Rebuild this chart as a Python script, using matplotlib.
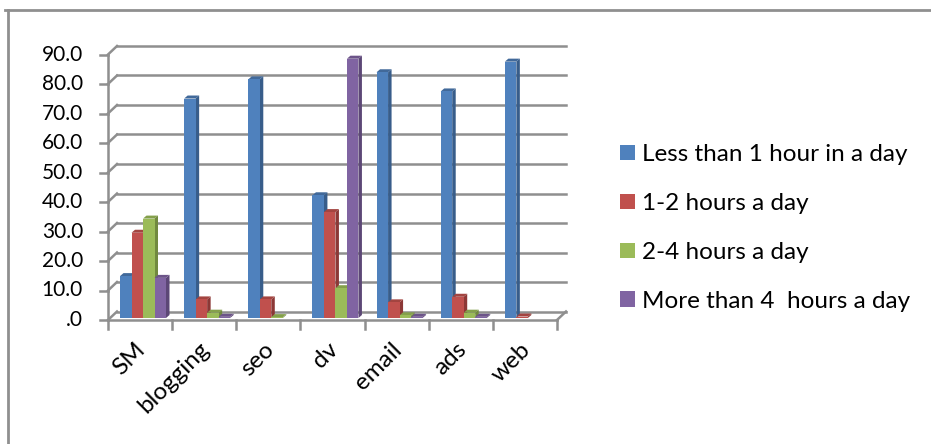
import numpy as np
import matplotlib.pyplot as plt
from matplotlib.patches import Polygon, Patch
from matplotlib.lines import Line2D

plt.rcParams['font.family'] = ['Lato', 'DejaVu Sans']

categories = ['SM', 'blogging', 'seo', 'dv', 'email', 'ads', 'web']
series_names = ['Less than 1 hour in a day', '1-2 hours a day', '2-4 hours a day',
                'More than 4  hours a day']
less_1h = [14.2, 74.4, 80.9, 41.6, 83.3, 76.8, 86.9]
h1_2 = [28.9, 6.3, 6.3, 35.9, 5.3, 7.2, 0.5]
h2_4 = [33.7, 1.8, 0.3, 10.1, 0.9, 1.8, 0.0]
more_4h = [13.6, 0.4, 0.0, 87.9, 0.4, 0.4, 0.0]
yticks = [0, 10, 20, 30, 40, 50, 60, 70, 80, 90]
ytick_labels = ['.0', '10.0', '20.0', '30.0', '40.0', '50.0', '60.0', '70.0', '80.0', '90.0']

series = [less_1h, h1_2, h2_4, more_4h]
front = ['#4f81bd', '#c0504d', '#9bbb59', '#8064a2']
side = ['#385d8a', '#8c3836', '#71893f', '#5c4776']
top = ['#41699a', '#a34440', '#84a04b', '#6c5489']

W, H = 931, 444
fig = plt.figure(figsize=(W / 100, H / 100), dpi=100)

# pixel frame of the plot (front 0 at y=320, back top at y=46)
px_left, px_right, px_top, px_bot = 108, 566, 46, 320
ax = fig.add_axes([px_left / W, 1 - px_bot / H, (px_right - px_left) / W, (px_bot - px_top) / H])
n = len(categories)
ux = (px_right - 9 - px_left) / n        # px per category
uy = (px_bot - 54.5) / 90.0              # px per value unit
dxb, dyb = 9 / ux, 8.5 / uy              # back wall offset
ax.set_xlim(0, n + dxb)
ax.set_ylim(0, 90 + dyb)
ax.axis('off')

grid = '#8f8f8f'
lw = 1.8
for v, lab in zip(yticks, ytick_labels):
    ax.plot([dxb, n + dxb], [v + dyb, v + dyb], color=grid, lw=lw, clip_on=False, zorder=1)
    ax.plot([0, dxb], [v, v + dyb], color=grid, lw=lw, clip_on=False, zorder=1)
    ax.plot([-8 / ux, 0], [v, v], color=grid, lw=lw, clip_on=False, zorder=1)
    ax.text(-25 / ux, v, lab, ha='right', va='center', fontsize=15, color='black')
ax.plot([0, 0], [0, 90], color=grid, lw=lw, clip_on=False, zorder=1)
# floor
ax.plot([0, n], [0, 0], color=grid, lw=lw, clip_on=False, zorder=5)
ax.plot([n, n + dxb], [0, dyb], color=grid, lw=lw, clip_on=False, zorder=5)
for i in range(n + 1):
    ax.plot([i, i], [0, -9 / uy], color=grid, lw=lw, clip_on=False, zorder=5)

# 3d-like bars
bw = 11.5 / ux
ddx, ddy = 3.5 / ux, 3 / uy
base = 2 / uy
for i in range(n):
    x0 = i + 12 / ux
    for j, vals in enumerate(series):
        v = vals[i]
        if v <= 0:
            continue
        xl = x0 + j * bw
        xr = xl + bw
        yb, yt = base, base + v
        z = 3 + j * 0.01
        ax.add_patch(Polygon([(xr, yb), (xr + ddx, yb + ddy), (xr + ddx, yt + ddy), (xr, yt)],
                             closed=True, facecolor=side[j], edgecolor='none', zorder=z, clip_on=False))
        ax.add_patch(Polygon([(xl, yt), (xl + ddx, yt + ddy), (xr + ddx, yt + ddy), (xr, yt)],
                             closed=True, facecolor=top[j], edgecolor='none', zorder=z, clip_on=False))
        ax.add_patch(Polygon([(xl, yb), (xr, yb), (xr, yt), (xl, yt)],
                             closed=True, facecolor=front[j], edgecolor='none', zorder=z, clip_on=False))

for i, c in enumerate(categories):
    ax.text(i + 0.5 + 2 / ux, -26 / uy, c, rotation=45, ha='right', va='center',
            rotation_mode='anchor', fontsize=17.5, color='black')

handles = [Patch(facecolor=front[j], edgecolor='none') for j in range(4)]
fig.legend(handles, series_names, loc='center left', bbox_to_anchor=(620 / W, 1 - 228 / H),
           frameon=False, fontsize=17.5, handlelength=0.62, handleheight=0.62,
           handletextpad=0.3, labelspacing=1.15, borderpad=0, borderaxespad=0)

# chart border
fig.add_artist(Line2D([5 / W, 1], [1 - 10 / H, 1 - 10 / H], color='#8f8f8f', lw=2))
fig.add_artist(Line2D([8 / W, 8 / W], [0, 1 - 10 / H], color='#8f8f8f', lw=2))

fig.savefig('out.png', dpi=100)
